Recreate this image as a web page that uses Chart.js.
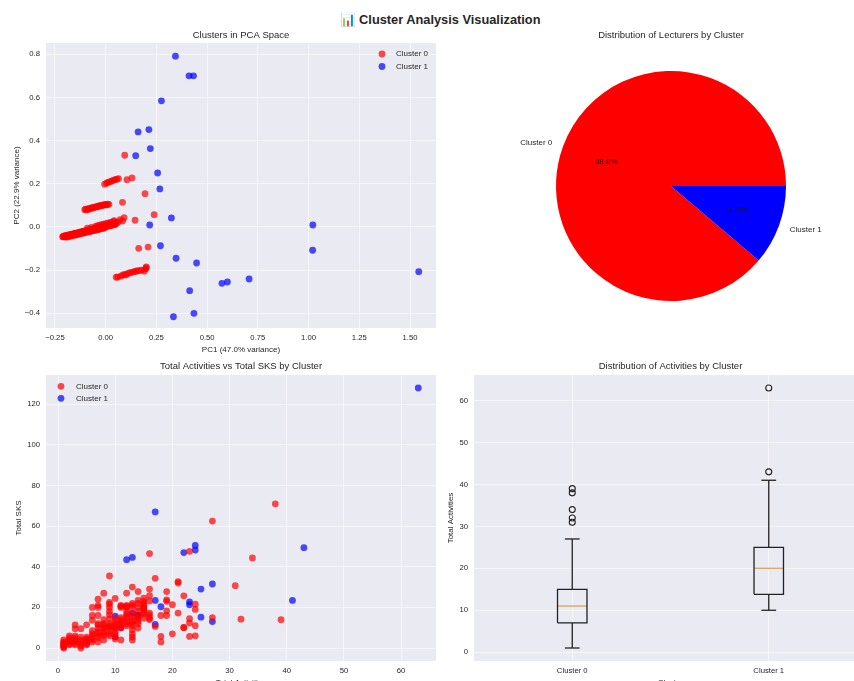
<!DOCTYPE html>
<html><head><meta charset="utf-8">
<script src="https://cdn.jsdelivr.net/npm/chart.js@4.4.0/dist/chart.umd.min.js"></script>
<style>
html,body{margin:0;padding:0;background:#fff;overflow:hidden;width:854px;height:681px;}
#wrap{position:relative;width:854px;height:681px;overflow:hidden;background:#fff;}
canvas{position:absolute;}
#suptitle{position:absolute;left:0;top:11px;width:880px;text-align:center;font-family:'Liberation Sans',Arial,sans-serif;font-weight:bold;font-size:12.8px;color:#262626;line-height:18px;white-space:nowrap;}
</style></head><body>
<div id="wrap">
<div id="suptitle">📊 Cluster Analysis Visualization</div>
<canvas id="c1" width="440" height="355" style="left:0;top:0"></canvas>
<canvas id="c2" width="445" height="355" style="left:440px;top:0"></canvas>
<canvas id="c3" width="440" height="333" style="left:0;top:355px"></canvas>
<canvas id="c4" width="445" height="333" style="left:440px;top:355px"></canvas>
</div>
<script>
// ---------------- DATA ----------------
const clusterNames = ['Cluster 0', 'Cluster 1'];

// PCA space, Cluster 0
const pcaX0 = [
  // main band
  -0.212,-0.209,-0.205,-0.203,-0.200,-0.197,-0.195,-0.191,-0.188,-0.186,
  -0.182,-0.179,-0.176,-0.174,-0.170,-0.167,-0.165,-0.161,-0.158,-0.155,
  -0.152,-0.149,-0.146,-0.143,-0.140,-0.137,-0.133,-0.131,-0.128,-0.124,
  -0.121,-0.118,-0.116,-0.112,-0.109,-0.106,-0.103,-0.100,-0.097,-0.094,
  -0.091,-0.088,-0.085,-0.082,-0.079,-0.076,-0.073,-0.070,-0.067,-0.064,
  -0.061,-0.058,-0.055,-0.052,-0.049,-0.046,-0.043,-0.040,-0.037,-0.034,
  -0.031,-0.028,-0.025,-0.022,-0.019,-0.016,-0.013,-0.010,-0.007,-0.004,
  -0.001,0.002,0.005,0.008,0.011,0.014,0.017,0.020,0.023,0.026,
  0.029,0.032,0.036,0.040,0.044,0.048,0.053,
  -0.090,-0.070,-0.050,-0.040,-0.030,-0.020,-0.010,0.000,0.010,0.020,0.030,0.040,
  -0.195,-0.188,-0.180,-0.172,-0.163,-0.156,-0.148,-0.141,-0.134,-0.126,-0.119,-0.111,-0.104,
  -0.096,-0.089,-0.081,-0.074,-0.066,-0.059,-0.051,-0.044,-0.036,-0.029,-0.021,-0.014,-0.006,
  // band near 0.09
  -0.103,-0.098,-0.092,-0.088,-0.083,-0.078,-0.072,-0.068,-0.063,-0.058,-0.052,-0.047,
  -0.042,-0.037,-0.032,-0.027,-0.022,-0.017,-0.012,-0.006,-0.001,0.005,0.010,0.016,
  // band near 0.21
  -0.005,0.005,0.012,0.022,0.030,0.038,0.046,0.055,0.063,0.105,0.130,
  // band near -0.21
  0.052,0.060,0.075,0.085,0.095,0.100,0.110,0.120,0.130,0.140,0.150,0.155,0.165,0.175,0.190,0.195,0.200,0.200,
  // scattered
  0.094,0.194,0.083,0.239,0.145,0.091,0.042,0.163,0.209,0.060,0.072,0.083
];
const pcaY0 = [
  -0.045,-0.046,-0.042,-0.045,-0.041,-0.043,-0.040,-0.041,-0.038,-0.040,
  -0.037,-0.039,-0.036,-0.037,-0.034,-0.036,-0.033,-0.034,-0.031,-0.033,
  -0.030,-0.032,-0.029,-0.030,-0.027,-0.029,-0.026,-0.028,-0.024,-0.026,
  -0.023,-0.025,-0.022,-0.023,-0.020,-0.022,-0.019,-0.021,-0.018,-0.019,
  -0.016,-0.018,-0.015,-0.017,-0.013,-0.015,-0.012,-0.014,-0.011,-0.012,
  -0.009,-0.011,-0.008,-0.010,-0.007,-0.008,-0.005,-0.007,-0.004,-0.006,
  -0.003,-0.004,-0.001,-0.003,0.000,-0.002,0.001,-0.001,0.003,0.000,
  0.004,0.002,0.005,0.003,0.007,0.005,0.008,0.006,0.009,0.007,
  0.011,0.009,0.012,0.010,0.014,0.012,0.016,
  -0.006,-0.002,0.003,0.006,0.008,0.011,0.013,0.015,0.018,0.020,0.022,0.025,
  -0.047,-0.046,-0.044,-0.042,-0.041,-0.038,-0.037,-0.035,-0.034,-0.031,-0.030,-0.028,-0.027,
  -0.025,-0.023,-0.022,-0.020,-0.018,-0.017,-0.015,-0.013,-0.012,-0.010,-0.008,-0.006,-0.005,
  0.080,0.082,0.079,0.084,0.085,0.083,0.087,0.089,0.088,0.091,0.092,0.094,
  0.093,0.096,0.097,0.099,0.098,0.101,0.100,0.103,0.104,0.102,0.106,0.105,
  0.198,0.203,0.207,0.209,0.213,0.216,0.219,0.221,0.224,0.219,0.227,
  -0.233,-0.232,-0.228,-0.222,-0.220,-0.222,-0.215,-0.212,-0.210,-0.207,-0.205,-0.203,-0.202,-0.200,-0.205,-0.195,-0.190,-0.185,
  0.332,0.154,0.114,0.057,0.031,0.043,0.029,-0.099,-0.093,0.022,0.034,0.028
];
// PCA space, Cluster 1
const pcaX1 = [0.344,0.411,0.433,0.275,0.160,0.213,0.148,0.220,0.256,0.267,0.324,0.217,
               1.021,1.020,0.270,0.347,0.448,0.573,0.600,0.707,1.543,0.414,0.334,0.435];
const pcaY1 = [0.791,0.700,0.700,0.584,0.440,0.451,0.330,0.363,0.250,0.176,0.042,0.009,
               0.009,-0.108,-0.087,-0.145,-0.167,-0.261,-0.255,-0.241,-0.207,-0.295,-0.416,-0.400];
const pcaXTicks = [-0.25,0,0.25,0.5,0.75,1,1.25,1.5];
const pcaYTicks = [-0.4,-0.2,0,0.2,0.4,0.6,0.8];

// Lecturer counts per cluster
const pieCounts = [190, 24];

// Total activities vs total SKS, Cluster 0
const act0 = [
  1,1,1,1,1,1,1,1, 2,2,2,2,2,2,2, 3,3,3,3,3,3,3,3, 4,4,4,4,4,4,4, 5,5,5,5,5,5,5,
  6,6,6,6,6,6,6,6,6, 7,7,7,7,7,7,7,7,7,7,7,7, 8,8,8,8,8,8,8,8,8,8,
  9,9,9,9,9,9,9,9,9,9,9,9,9,9, 10,10,10,10,10,10,10,10,10,10,10,
  11,11,11,11,11,11,11,11,11,11, 12,12,12,12,12,12,12,12,12,12,12,
  13,13,13,13,13,13,13,13,13,13,13,13,13,13, 14,14,14,14,14,14,14,14,14,14,14,
  15,15,15,15,15,15,15,15,15,15, 16,16,16,16,16,16,16,16, 17,17, 18,18,18,
  19,19,19,19,19, 20,20, 21,21,21, 22,22,22, 23,23,23,23, 24,24,24,24,
  27,27, 31, 32, 34, 38, 39
];
const sks0 = [
  4,3,2,1,0,2.5,0.5,1.5, 6,4,3,1.6,2,5,3.5, 11.4,9.5,6,4,2.3,3,5,1.5, 9.5,5.4,4,0,3,1,2, 11.4,5.4,4,3,1.6,2,4.5,
  20,16,13.7,8.5,6,5,4,7,3, 24,21,20,11.4,9.8,7.4,5,3,6,8,12,16, 27,12,11.4,9.8,8,6,4,7,10,14,
  35.5,22.5,21.6,20,18,16.4,14.4,12,11,9.8,8.5,6,7,10.5, 24.4,14.7,13,11,9.8,8,5.5,4.4,10,12,7,
  21,20,15,13,11,9.8,4,14,12,20.5, 27,21,20,16.7,14.7,13,11,15.5,12,20.5,18,
  30,22,20,15.5,13,11,9,6.9,5.4,4,12,14,21,17, 27.8,23.4,20,18,14.7,13,9.8,16,12,22,15,
  24.5,23,21,18.8,16.7,14.7,20,17.5,22,19.5, 46.5,29,25.8,23.2,17.2,16,14.7,14, 34.3,10.6, 16,5.7,3,
  27.8,23.7,23,18.3,16, 21.3,7, 32.7,32,17.2, 25.7,10.1,10, 47.6,14.4,12.3,5.7, 21.6,19,11,6,
  62.5,15, 30.7, 14.2, 44.3, 71, 13.9
];
// Total activities vs total SKS, Cluster 1
const act1 = [63,17,43,24,24,22,12,13,27,25,41,17,23,23,18,25,27,14,13,10,11,17,10,14];
const sks1 = [128,67,49.4,50.5,48.2,47,43.5,44.6,31.5,29,23.4,23.4,22.7,21.3,20.3,15.2,13,16.2,17.2,15.7,10,11.6,5.5,16];
const actTicks = [0,10,20,30,40,50,60];
const sksTicks = [0,20,40,60,80,100,120];

// Box plot of total activities per cluster
const boxPos = [1, 2];
const boxLow = [1, 10];
const boxQ1 = [7, 13.8];
const boxMed = [11, 20];
const boxQ3 = [15, 25];
const boxHigh = [27, 41];
const boxOutliers = [[31, 32, 34, 38, 39], [43, 63]];
const boxYTicks = [0,10,20,30,40,50,60];

// ---------------- STYLE / HELPERS ----------------
const FONT = "'Liberation Sans', Arial, Helvetica, sans-serif";
const TXT = '#262626';
const RED = 'rgba(255,0,0,0.7)', BLUE = 'rgba(0,0,255,0.7)';
const PR = 3.4;
Chart.defaults.font.family = FONT;
Chart.defaults.color = TXT;
Chart.defaults.animation = false;

const plotBg = { id: 'plotBg', beforeDraw(chart, args, o) {
  if (!o || !o.color) return;
  const a = chart.chartArea, ctx = chart.ctx;
  ctx.save(); ctx.fillStyle = o.color; ctx.fillRect(a.left, a.top, a.right - a.left, a.bottom - a.top); ctx.restore();
}};
const inLegend = { id: 'inLegend', afterDraw(chart, args, o) {
  if (!o || !o.show) return;
  const a = chart.chartArea, ctx = chart.ctx;
  ctx.save(); ctx.font = o.size + 'px ' + FONT; ctx.textBaseline = 'middle'; ctx.textAlign = 'left';
  chart.data.datasets.forEach((ds, i) => {
    const mx = o.fromRight ? a.right - o.dx : a.left + o.dx;
    const my = a.top + o.dy + i * o.gap;
    ctx.fillStyle = ds.backgroundColor; ctx.beginPath(); ctx.arc(mx, my, o.r, 0, Math.PI * 2); ctx.fill();
    ctx.fillStyle = TXT; ctx.fillText(ds.label, mx + o.tx, my);
  });
  ctx.restore();
}};
const pieText = { id: 'pieText', afterDatasetsDraw(chart, args, o) {
  const meta = chart.getDatasetMeta(0), ds = chart.data.datasets[0];
  const total = ds.data.reduce((s, v) => s + v, 0);
  const ctx = chart.ctx;
  ctx.save(); ctx.font = o.size + 'px ' + FONT; ctx.textBaseline = 'middle';
  meta.data.forEach((arc, i) => {
    const p = arc.getProps(['x','y','startAngle','endAngle','outerRadius'], true);
    const mid = (p.startAngle + p.endAngle) / 2;
    const c = Math.cos(mid), s = Math.sin(mid);
    ctx.fillStyle = TXT; ctx.textAlign = c < 0 ? 'right' : 'left';
    ctx.fillText(chart.data.labels[i], p.x + c * p.outerRadius * 1.1, p.y + s * p.outerRadius * 1.1);
    ctx.textAlign = 'center'; ctx.fillStyle = '#1a1a1a';
    ctx.fillText((ds.data[i] / total * 100).toFixed(1) + '%', p.x + c * p.outerRadius * 0.6, p.y + s * p.outerRadius * 0.6);
  });
  ctx.restore();
}};
const minus = v => (v < 0 ? '\u2212' : '') ;
function axis(o) {
  return {
    type: 'linear', min: o.min, max: o.max,
    afterBuildTicks: s => { s.ticks = o.ticks.map(v => ({ value: v })); },
    afterFit: s => { if (o.width != null) s.width = o.width; if (o.height != null) s.height = o.height; },
    ticks: { padding: o.pad, font: { size: 7.7 }, color: TXT, autoSkip: false, maxRotation: 0, callback: v => o.fmt(v) },
    grid: { color: 'rgba(255,255,255,0.55)', lineWidth: 1, drawTicks: false },
    border: { display: false },
    title: { display: true, text: o.title, font: { size: 8, lineHeight: 1.2 }, color: TXT, padding: o.tpad }
  };
}
function titleOpt(text, top, bottom) {
  return { display: true, text: text, fullSize: false, color: TXT, font: { size: 9.5, weight: 'normal', lineHeight: 1.2 }, padding: { top: top, bottom: bottom } };
}
const pts = (xs, ys) => xs.map((x, i) => ({ x: x, y: ys[i] }));

// ---------------- CHART 1: PCA ----------------
new Chart(document.getElementById('c1'), {
  type: 'scatter',
  data: { datasets: [
    { label: clusterNames[0], data: pts(pcaX0, pcaY0), backgroundColor: RED, borderWidth: 0, pointRadius: PR },
    { label: clusterNames[1], data: pts(pcaX1, pcaY1), backgroundColor: BLUE, borderWidth: 0, pointRadius: PR }
  ]},
  options: {
    responsive: false, animation: false, events: [],
    layout: { padding: { left: 0, right: 1, top: 0, bottom: 0 } },
    scales: {
      x: axis({ min: -0.294, max: 1.628, ticks: pcaXTicks, fmt: v => minus(v) + Math.abs(v).toFixed(2), pad: 5, height: 27, title: 'PC1 (47.0% variance)', tpad: { top: 0, bottom: 0 } }),
      y: axis({ min: -0.468, max: 0.852, ticks: pcaYTicks, fmt: v => minus(v) + Math.abs(v).toFixed(1), pad: 6, width: 46, title: 'PC2 (22.9% variance)', tpad: { top: 11.5, bottom: 0 } })
    },
    plugins: {
      legend: { display: false }, tooltip: { enabled: false },
      title: titleOpt('Clusters in PCA Space', 29.3, 2.3),
      plotBg: { color: '#EAEAF2' },
      inLegend: { show: true, fromRight: true, dx: 54, dy: 11, gap: 12.5, tx: 14, r: PR, size: 8 }
    }
  },
  plugins: [plotBg, inLegend]
});

// ---------------- CHART 2: PIE ----------------
const pieTotal = pieCounts.reduce((s, v) => s + v, 0);
new Chart(document.getElementById('c2'), {
  type: 'pie',
  data: { labels: clusterNames, datasets: [{ data: pieCounts, backgroundColor: ['#ff0000', '#0000ff'], borderWidth: 0 }] },
  options: {
    responsive: false, animation: false, events: [],
    rotation: 90 + pieCounts[1] / pieTotal * 360,
    layout: { padding: { left: 116, right: 99, top: 0, bottom: 54 } },
    plugins: {
      legend: { display: false }, tooltip: { enabled: false },
      title: { display: true, text: 'Distribution of Lecturers by Cluster', color: TXT, font: { size: 9.5, weight: 'normal', lineHeight: 1.2 }, padding: { top: 29.3, bottom: 30.3 } },
      pieText: { size: 8 }
    }
  },
  plugins: [pieText]
});

// ---------------- CHART 3: ACTIVITIES vs SKS ----------------
new Chart(document.getElementById('c3'), {
  type: 'scatter',
  data: { datasets: [
    { label: clusterNames[0], data: pts(act0, sks0), backgroundColor: RED, borderWidth: 0, pointRadius: PR },
    { label: clusterNames[1], data: pts(act1, sks1), backgroundColor: BLUE, borderWidth: 0, pointRadius: PR }
  ]},
  options: {
    responsive: false, animation: false, events: [],
    layout: { padding: { left: 0, right: 1, top: 0, bottom: 0 } },
    scales: {
      x: axis({ min: -2.1, max: 66.1, ticks: actTicks, fmt: v => String(v), pad: 5, height: 27, title: 'Total Activities', tpad: { top: 0, bottom: 0 } }),
      y: axis({ min: -6.4, max: 134.4, ticks: sksTicks, fmt: v => String(v), pad: 6, width: 46, title: 'Total SKS', tpad: { top: 13.5, bottom: 0 } })
    },
    plugins: {
      legend: { display: false }, tooltip: { enabled: false },
      title: titleOpt('Total Activities vs Total SKS by Cluster', 6, 2.6),
      plotBg: { color: '#EAEAF2' },
      inLegend: { show: true, fromRight: false, dx: 15, dy: 11.3, gap: 12, tx: 15, r: PR, size: 8 }
    }
  },
  plugins: [plotBg, inLegend]
});

// ---------------- CHART 4: BOX PLOT ----------------
const BOXW = 0.075, CAPW = 0.0375;
const boxSets = [];
const lineDs = (data, color, width) => ({ data: data, showLine: true, borderColor: color, borderWidth: width, pointRadius: 0, fill: false, tension: 0 });
boxPos.forEach((p, i) => {
  boxSets.push(lineDs([{x:p-BOXW,y:boxQ1[i]},{x:p+BOXW,y:boxQ1[i]},{x:p+BOXW,y:boxQ3[i]},{x:p-BOXW,y:boxQ3[i]},{x:p-BOXW,y:boxQ1[i]}], '#222', 1.3));
  boxSets.push(lineDs([{x:p,y:boxQ1[i]},{x:p,y:boxLow[i]}], '#222', 1.3));
  boxSets.push(lineDs([{x:p,y:boxQ3[i]},{x:p,y:boxHigh[i]}], '#222', 1.3));
  boxSets.push(lineDs([{x:p-CAPW,y:boxLow[i]},{x:p+CAPW,y:boxLow[i]}], '#222', 1.3));
  boxSets.push(lineDs([{x:p-CAPW,y:boxHigh[i]},{x:p+CAPW,y:boxHigh[i]}], '#222', 1.3));
  boxSets.push(lineDs([{x:p-BOXW,y:boxMed[i]},{x:p+BOXW,y:boxMed[i]}], '#d9a86a', 1.4));
  boxSets.push({ data: boxOutliers[i].map(v => ({ x: p, y: v })), showLine: false, pointRadius: 3, pointBorderWidth: 1.1, pointBorderColor: '#222', pointBackgroundColor: 'rgba(0,0,0,0)' });
});
new Chart(document.getElementById('c4'), {
  type: 'scatter',
  data: { datasets: boxSets },
  options: {
    responsive: false, animation: false, events: [],
    layout: { padding: { left: 0, right: 18, top: 0, bottom: 0 } },
    scales: {
      x: axis({ min: 0.5, max: 2.5, ticks: boxPos, fmt: v => clusterNames[boxPos.indexOf(v)], pad: 5, height: 27, title: 'Cluster', tpad: { top: 0, bottom: 0 } }),
      y: axis({ min: -2.1, max: 66.1, ticks: boxYTicks, fmt: v => String(v), pad: 6, width: 34, title: 'Total Activities', tpad: { top: 6.2, bottom: 0 } })
    },
    plugins: {
      legend: { display: false }, tooltip: { enabled: false },
      title: titleOpt('Distribution of Activities by Cluster', 6, 2.6),
      plotBg: { color: '#EAEAF2' }
    }
  },
  plugins: [plotBg]
});
</script>
</body></html>
